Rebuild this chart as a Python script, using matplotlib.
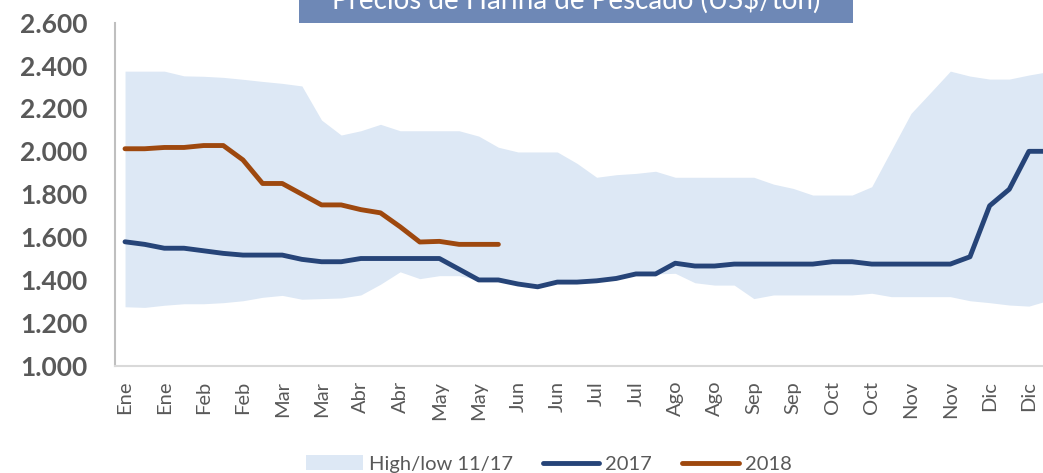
import matplotlib
matplotlib.use("Agg")
import matplotlib.pyplot as plt
from matplotlib.patches import Rectangle
import numpy as np

plt.rcParams['font.family'] = ['Lato', 'DejaVu Sans']

# 48 weekly categories (4 per month); labels shown every 2nd category
months = ["Ene", "Feb", "Mar", "Abr", "May", "Jun", "Jul", "Ago", "Sep", "Oct", "Nov", "Dic"]
categories = [m for m in months for _ in range(4)]

high_11_17 = [2374, 2374, 2374, 2352, 2350, 2345, 2336, 2326, 2317, 2305, 2146, 2076,
              2096, 2126, 2096, 2096, 2096, 2096, 2071, 2019, 1997, 1997, 1997, 1944,
              1879, 1891, 1897, 1907, 1879, 1879, 1879, 1879, 1879, 1847, 1827, 1796,
              1796, 1796, 1835, 2006, 2177, 2275, 2374, 2351, 2337, 2337, 2356, 2372]
low_11_17 = [1275, 1272, 1282, 1289, 1289, 1294, 1303, 1319, 1328, 1310, 1313, 1316,
             1330, 1380, 1438, 1406, 1420, 1420, 1400, 1395, 1380, 1368, 1388, 1388,
             1394, 1405, 1426, 1428, 1431, 1387, 1376, 1376, 1313, 1330, 1330, 1330,
             1330, 1330, 1338, 1322, 1322, 1322, 1322, 1303, 1294, 1283, 1278, 1305]
s2017 = [1578, 1566, 1548, 1548, 1536, 1524, 1516, 1516, 1516, 1496, 1485, 1485,
         1500, 1500, 1500, 1500, 1500, 1450, 1400, 1400, 1381, 1368, 1390, 1390,
         1396, 1407, 1428, 1428, 1478, 1465, 1465, 1474, 1474, 1474, 1474, 1474,
         1485, 1485, 1474, 1474, 1474, 1474, 1474, 1508, 1746, 1823, 2000, 2000]
s2018 = [2012, 2012, 2018, 2018, 2027, 2027, 1960, 1850, 1850, 1800, 1750, 1750,
         1728, 1713, 1648, 1577, 1580, 1566, 1566, 1566]

y_ticks = [1000, 1200, 1400, 1600, 1800, 2000, 2200, 2400, 2600]
y_tick_labels = ["1.000", "1.200", "1.400", "1.600", "1.800", "2.000", "2.200", "2.400", "2.600"]
title = "Precios de Harina de Pescado (US$/ton)"

W, H = 1043, 473
fig = plt.figure(figsize=(W / 100, H / 100), dpi=100)
fig.patch.set_facecolor("white")

ax = fig.add_axes([115.2 / W, 107.3 / H, (1058.4 - 115.2) / W, 343.0 / H])
ax.set_facecolor("none")

x = np.arange(len(categories))
band_color = "#DDE8F5"
c2017 = "#264478"
c2018 = "#9E480E"

ax.fill_between(x, low_11_17, high_11_17, color=band_color, linewidth=0, label="High/low 11/17")
ax.plot(x, s2017, color=c2017, lw=3.5, solid_capstyle="round", solid_joinstyle="round", label="2017")
ax.plot(x[:len(s2018)], s2018, color=c2018, lw=3.5, solid_capstyle="round", solid_joinstyle="round", label="2018")

ax.set_xlim(-0.5, len(categories) - 0.5)
ax.set_ylim(1000, 2600)
ax.set_yticks(y_ticks)
ax.set_yticklabels(y_tick_labels, fontsize=19, fontweight="bold", color="#595959")
ax.set_xticks(x[::2])
ax.set_xticklabels(categories[::2], rotation=90, fontsize=14.5, color="#595959")
ax.tick_params(axis="both", length=0)
ax.tick_params(axis="y", pad=20)
ax.tick_params(axis="x", pad=11)

for s in ["top", "right"]:
    ax.spines[s].set_visible(False)
ax.spines["left"].set_color("#BFBFBF")
ax.spines["left"].set_linewidth(1.5)
ax.spines["bottom"].set_color("#D9D9D9")
ax.spines["bottom"].set_linewidth(1.5)

# Title box (cropped at the top in the reference)
fig.patches.append(Rectangle((299 / W, 1 - 22.7 / H), 554 / W, 0.2, transform=fig.transFigure,
                             facecolor="#6E88B6", edgecolor="none", zorder=5))
fig.text(576 / W, 1 - 8.5 / H, title, ha="center", va="baseline", color="white",
         fontsize=20, zorder=6)

h, l = ax.get_legend_handles_labels()
leg = fig.legend(h, l, loc="center", bbox_to_anchor=(549 / W, 1 - 464 / H), ncol=3, frameon=False,
                 fontsize=14.5, handlelength=2.8, handletextpad=0.3, columnspacing=1.5)
for t in leg.get_texts():
    t.set_color("#595959")

fig.savefig("out.png", dpi=100)
